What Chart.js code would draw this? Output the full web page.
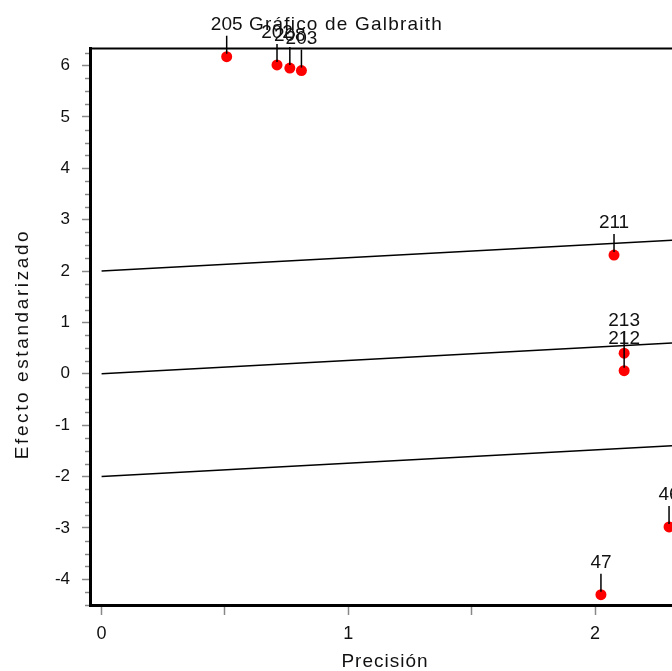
<!DOCTYPE html>
<html>
<head>
<meta charset="utf-8">
<script src="https://cdn.jsdelivr.net/npm/chart.js@4.4.0/dist/chart.umd.min.js"></script>
<style>
  html, body { margin: 0; padding: 0; background: #fff; overflow: hidden; }
</style>
</head>
<body>
<canvas id="myChart" width="672" height="671"></canvas>
<script>
// study points (precision vs standardized effect)
const studyLabels = ['205', '202', '208', '203', '211', '213', '212', '47', '46'];
const precision = [0.507, 0.711, 0.763, 0.810, 2.077, 2.118, 2.118, 2.024, 2.300];
const stdEffect = [6.17, 6.01, 5.95, 5.90, 2.31, 0.40, 0.06, -4.30, -2.98];

// Galbraith reference lines (two ends each)
const lineX = [0, 2.312];
const upperY = [2, 2.60];
const middleY = [0, 0.60];
const lowerY = [-2, -1.40];

// axis ticks
const xTicks = [0, 0.5, 1, 1.5, 2];
const yTicks = [-4, -3, -2, -1, 0, 1, 2, 3, 4, 5, 6];

const FONT = '"Liberation Sans", Arial, sans-serif';

function linePoints(ys) {
    return lineX.map((x, i) => ({ x: x, y: ys[i] }));
}

const decor = {
    id: 'decor',
    afterDatasetsDraw(chart) {
        const ctx = chart.ctx;
        const meta = chart.getDatasetMeta(3);
        ctx.save();
        ctx.strokeStyle = '#000';
        ctx.lineWidth = 1.5;
        ctx.fillStyle = '#111';
        ctx.font = '19px ' + FONT;
        ctx.textAlign = 'center';
        ctx.textBaseline = 'alphabetic';
        meta.data.forEach((pt, i) => {
            ctx.beginPath();
            ctx.moveTo(pt.x, pt.y - 21);
            ctx.lineTo(pt.x, pt.y - 3);
            ctx.stroke();
            ctx.fillText(studyLabels[i], pt.x, pt.y - 27);
        });
        ctx.restore();
    },
    afterDraw(chart) {
        const ctx = chart.ctx;
        const area = chart.chartArea;
        const y = chart.scales.y;
        ctx.save();
        // top frame line
        ctx.strokeStyle = '#000';
        ctx.lineWidth = 2;
        ctx.beginPath();
        ctx.moveTo(area.left, area.top + 0.5);
        ctx.lineTo(area.right, area.top + 0.5);
        ctx.stroke();
        // minor ticks on y axis
        ctx.strokeStyle = '#888';
        ctx.lineWidth = 1.5;
        for (let v = -4.5; v <= y.max; v += 0.25) {
            if (Math.abs(v - Math.round(v)) < 1e-6) continue;
            const py = Math.round(y.getPixelForValue(v)) + 0.5;
            ctx.beginPath();
            ctx.moveTo(area.left - 5, py);
            ctx.lineTo(area.left - 1, py);
            ctx.stroke();
        }
        // titles
        ctx.fillStyle = '#111';
        ctx.textAlign = 'center';
        ctx.font = '19px ' + FONT;
        ctx.letterSpacing = '1.2px';
        ctx.fillText('Gráfico de Galbraith', 346, 30);
        ctx.letterSpacing = '1px';
        ctx.fillText('Precisión', 385, 667);
        ctx.letterSpacing = '2.6px';
        ctx.translate(28, 344);
        ctx.rotate(-Math.PI / 2);
        ctx.fillText('Efecto estandarizado', 0, 0);
        ctx.restore();
    }
};

const ctx = document.getElementById('myChart').getContext('2d');
new Chart(ctx, {
    type: 'scatter',
    data: {
        datasets: [
            { data: linePoints(upperY), showLine: true, borderColor: '#000', borderWidth: 1.5, pointRadius: 0 },
            { data: linePoints(middleY), showLine: true, borderColor: '#000', borderWidth: 1.5, pointRadius: 0 },
            { data: linePoints(lowerY), showLine: true, borderColor: '#000', borderWidth: 1.5, pointRadius: 0 },
            {
                data: precision.map((x, i) => ({ x: x, y: stdEffect[i] })),
                backgroundColor: '#ff0000',
                borderWidth: 0,
                pointRadius: 5.5,
                clip: false
            }
        ]
    },
    options: {
        responsive: false,
        animation: false,
        devicePixelRatio: 1,
        layout: { autoPadding: false, padding: { top: 48, right: 0, bottom: 0, left: 0 } },
        plugins: { legend: { display: false }, tooltip: { enabled: false } },
        scales: {
            x: {
                type: 'linear',
                min: -0.047,
                max: 2.312,
                afterBuildTicks: scale => { scale.ticks = xTicks.map(v => ({ value: v })); },
                afterFit: scale => { scale.height = 66; },
                border: { display: true, color: '#000', width: 3 },
                grid: { drawOnChartArea: false, drawTicks: true, tickLength: 10, tickColor: '#888', tickWidth: 1.5 },
                ticks: {
                    color: '#111',
                    font: { family: FONT, size: 18 },
                    padding: 8,
                    maxRotation: 0,
                    autoSkip: false,
                    callback: v => Number.isInteger(v) ? String(v) : ''
                }
            },
            y: {
                type: 'linear',
                min: -4.5,
                max: 6.34,
                afterBuildTicks: scale => { scale.ticks = yTicks.map(v => ({ value: v })); },
                afterFit: scale => { scale.width = 90; },
                border: { display: true, color: '#000', width: 3 },
                grid: { drawOnChartArea: false, drawTicks: true, tickLength: 8, tickColor: '#888', tickWidth: 1.5 },
                ticks: {
                    color: '#111',
                    font: { family: FONT, size: 17 },
                    padding: 12,
                    autoSkip: false,
                    callback: v => String(v)
                }
            }
        }
    },
    plugins: [decor]
});
</script>
</body>
</html>
